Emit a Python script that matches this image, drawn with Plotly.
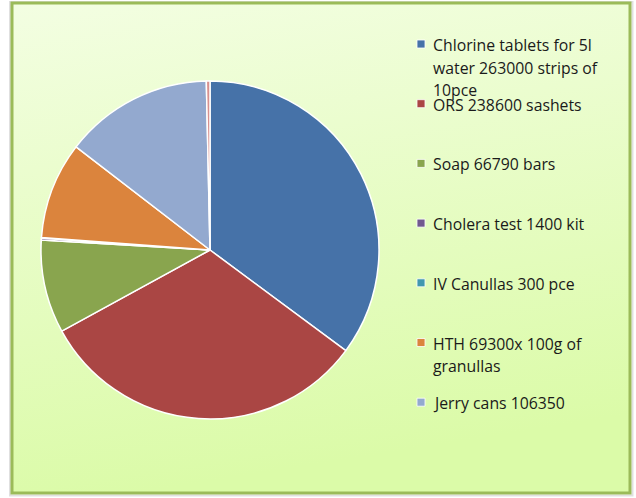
import base64
import plotly.graph_objects as go

# ---- data ----
labels = [
    "Chlorine tablets for 5l<br>water 263000 strips of<br>10pce",
    "ORS 238600 sashets",
    "Soap 66790 bars",
    "Cholera test 1400 kit",
    "IV Canullas 300 pce",
    "HTH 69300x 100g of<br>granullas",
    "Jerry cans 106350",
    "",
]
values = [263000, 238600, 66790, 1400, 300, 69300, 106350, 2600]
colors = ["#4672A8", "#AA4644", "#89A54E", "#71588F", "#4198AF", "#DB843D", "#93A9CF", "#D8908E"]
legend_count = 7

W, H = 636, 498

fig = go.Figure()
fig.add_trace(go.Pie(
    labels=[l if l else " " for l in labels],
    values=values,
    sort=False,
    direction="clockwise",
    rotation=0,
    marker=dict(colors=colors, line=dict(color="white", width=1.5)),
    textinfo="none",
    hoverinfo="label+value+percent",
    showlegend=False,
    domain=dict(x=[41 / W, 379 / W], y=[1 - 419 / H, 1 - 81 / H]),
))

# gradient background via inline svg
svg = (
    '<svg xmlns="http://www.w3.org/2000/svg" width="618" height="490" preserveAspectRatio="none">'
    '<defs><linearGradient id="g" x1="0" y1="0" x2="0.2" y2="1">'
    '<stop offset="0" stop-color="#F3FEE2"/><stop offset="1" stop-color="#DBFBA8"/>'
    '</linearGradient></defs><rect width="618" height="490" fill="url(#g)"/></svg>'
)
src = "data:image/svg+xml;base64," + base64.b64encode(svg.encode()).decode()

x0, x1, y0, y1 = 12, 630, 3, 493
fig.add_layout_image(dict(
    source=src, xref="paper", yref="paper",
    x=x0 / W, y=1 - y0 / H, sizex=(x1 - x0) / W, sizey=(y1 - y0) / H,
    xanchor="left", yanchor="top", sizing="stretch", layer="below",
))
shapes = [
    dict(type="rect", xref="paper", yref="paper", x0=(x0 - 2) / W, x1=(x1 + 2.5) / W,
         y0=1 - (y1 + 2.5) / H, y1=1 - (y0 - 1) / H, line=dict(color="rgba(0,0,0,0.12)", width=2),
         fillcolor="rgba(0,0,0,0)", layer="above"),
    dict(type="rect", xref="paper", yref="paper", x0=x0 / W, x1=x1 / W,
         y0=1 - y1 / H, y1=1 - y0 / H, line=dict(color="#9BBB59", width=3), fillcolor="rgba(0,0,0,0)", layer="above"),
]

annotations = []
item_top = 44
item_step = 59.7
line_step = 22.7
for i in range(legend_count):
    ytop = item_top + i * item_step
    shapes.append(dict(
        type="rect", xref="paper", yref="paper",
        x0=417 / W, x1=425 / W, y0=1 - (ytop + 4) / H, y1=1 - (ytop - 4) / H,
        fillcolor=colors[i], line=dict(color="white", width=0.8),
    ))
    for j, line in enumerate(labels[i].split("<br>")):
        annotations.append(dict(
            xref="paper", yref="paper", x=431 / W, y=1 - (ytop + j * line_step + 1) / H,
            xanchor="left", yanchor="middle", text=line, showarrow=False,
            font=dict(family="Open Sans", size=15.8, color="#1a1a1a"),
        ))

fig.update_layout(
    width=W, height=H,
    margin=dict(l=0, r=0, t=0, b=0),
    paper_bgcolor="white",
    plot_bgcolor="white",
    shapes=shapes,
    annotations=annotations,
    showlegend=False,
)

fig.write_html(
    "out.html",
    config={"displayModeBar": False},
    post_script="document.body.style.margin='0';document.body.style.overflow='hidden';",
)
